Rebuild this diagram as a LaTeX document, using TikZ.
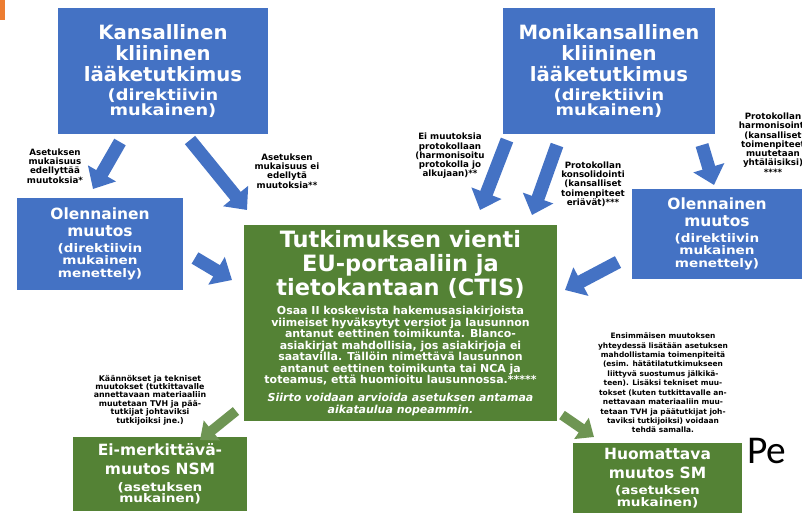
\documentclass[tikz,border=0pt]{standalone}
\usepackage{fontspec}
\setmainfont{DejaVu Sans}
\newfontfamily\widefont{DejaVu Sans}[FakeStretch=1.15]
\newfontfamily\pefont{Carlito}
\usetikzlibrary{arrows.meta}
\definecolor{boxblue}{HTML}{4472C4}
\definecolor{boxgreen}{HTML}{548235}
\definecolor{slideorange}{HTML}{ED7D31}
\newcommand{\fs}[2]{\fontsize{#1}{#2}\selectfont}
\newcommand{\boxtext}[2]{\parbox{#1}{\centering\bfseries #2}}
\begin{document}
\begin{tikzpicture}[x=0.025cm,y=-0.025cm]
      \useasboundingbox (0,0) rectangle (802,515);
      \fill[slideorange] (0,0) rectangle (5,20);
      \begin{scope}[every node/.style={fill=boxblue,text=white,inner sep=0pt}]
        \node[minimum width=5.25cm,minimum height=3.15cm] (K) at (163,71)
          {\boxtext{5cm}{\fs{14}{15}Kansallinen\\kliininen\\lääketutkimus\\[2.5pt]\widefont\fs{11}{11}(direktiivin\\mukainen)}};
        \node[minimum width=5.3cm,minimum height=3.15cm] (M) at (609,71)
          {\boxtext{5cm}{\fs{14}{15}Monikansallinen\\kliininen\\lääketutkimus\\[2.5pt]\widefont\fs{11}{11}(direktiivin\\mukainen)}};
        \node[minimum width=4.15cm,minimum height=2.3cm] (OL) at (100,244)
          {\boxtext{4cm}{\fs{11}{11.5}Olennainen\\muutos\\[3pt]\widefont\fs{8.4}{8.8}(direktiivin\\mukainen\\menettely)}};
        \node[minimum width=4.25cm,minimum height=2.25cm] (OR) at (717,234)
          {\boxtext{4cm}{\fs{11}{11.5}Olennainen\\muutos\\[3pt]\widefont\fs{8.4}{8.8}(direktiivin\\mukainen\\menettely)}};
      \end{scope}
      \begin{scope}[every node/.style={fill=boxgreen,text=white,inner sep=0pt}]
        \node[minimum width=7.825cm,minimum height=4.9cm] (C) at (400.5,323)
          {\boxtext{7.7cm}{\fs{16}{17}Tutkimuksen vienti\\EU-portaaliin ja\\tietokantaan (CTIS)\\[5.3pt]
           \fs{7.8}{8.2}Osaa II koskevista hakemusasiakirjoista\\viimeiset hyväksytyt versiot ja lausunnon\\
           antanut eettinen toimikunta. Blanco-\\asiakirjat mahdollisia, jos asiakirjoja ei\\
           saatavilla. Tällöin nimettävä lausunnon\\antanut eettinen toimikunta tai NCA ja\\
           toteamus, että huomioitu lausunnossa.*****\\[4.5pt]
           \itshape Siirto voidaan arvioida asetuksen antamaa\\aikataulua nopeammin.}};
        \node[minimum width=4.35cm,minimum height=1.85cm] (N) at (160,474)
          {\boxtext{4.2cm}{\fs{11}{13.5}Ei-merkittävä-\\muutos NSM\\[3.5pt]\widefont\fs{8.4}{8.3}(asetuksen\\mukainen)}};
        \node[minimum width=4.225cm,minimum height=1.75cm] (S) at (657.5,478)
          {\boxtext{4.1cm}{\fs{11}{13.5}Huomattava\\muutos SM\\[3.5pt]\widefont\fs{8.4}{8.3}(asetuksen\\mukainen)}};
      \end{scope}
      \begin{scope}[every node/.style={text=black,align=center,inner sep=0pt}]
        \node[font=\bfseries\fs{6.2}{6.6}] (l1) at (55,166) {Asetuksen\\mukaisuus\\edellyttää\\muutoksia*};
        \node[font=\bfseries\fs{6.2}{6.6}] (l2) at (287,171) {Asetuksen\\mukaisuus ei\\edellytä\\muutoksia**};
        \node[font=\bfseries\fs{6.2}{6.6}] (l3) at (450,156) {Ei muutoksia\\protokollaan\\(harmonisoitu\\protokolla jo\\alkujaan)**};
        \node[font=\bfseries\fs{6.2}{6.6}] (l4) at (593,184) {Protokollan\\konsolidointi\\(kansalliset\\toimenpiteet\\eriävät)***};
        \node[font=\bfseries\fs{6.2}{6.6}] (l5) at (773,144) {Protokollan\\harmonisointi\\(kansalliset\\toimenpiteet\\muutetaan\\yhtäläisiksi)\\****};
        \node[font=\bfseries\fs{5.6}{6}] (l6) at (150,400) {Käännökset ja tekniset\\muutokset (tutkittavalle\\annettavaan materiaaliin\\muutetaan TVH ja pää-\\tutkijat johtaviksi\\tutkijoiksi jne.)};
        \node[font=\bfseries\fs{5.3}{6.7}] (l7) at (663,383) {Ensimmäisen muutoksen\\yhteydessä lisätään asetuksen\\mahdollistamia toimenpiteitä\\(esim. hätätilatutkimukseen\\liittyvä suostumus jälkikä-\\teen). Lisäksi tekniset muu-\\tokset (kuten tutkittavalle an-\\nettavaan materiaaliin muu-\\tetaan TVH ja päätutkijat joh-\\taviksi tutkijoiksi) voidaan\\tehdä samalla.};
        \node[font=\pefont\fontsize{28}{30}\selectfont,anchor=west] (pe) at (747,451) {Pe};
      \end{scope}
      % arrow ends
      \coordinate (k1) at (120,142);  \coordinate (ol1) at (93,189);
      \coordinate (k2) at (190,140);  \coordinate (c1) at (247,210);
      \coordinate (ol2) at (195,258); \coordinate (c2) at (232,280);
      \coordinate (m1) at (507,140);  \coordinate (c3) at (480,210);
      \coordinate (m2) at (557,145);  \coordinate (c4) at (532,215);
      \coordinate (m3) at (702,145);  \coordinate (or1) at (714,185);
      \coordinate (or2) at (618,262); \coordinate (c5) at (565,290);
      \coordinate (c6) at (236,411);  \coordinate (n1) at (200,440);
      \coordinate (c7) at (562,415);  \coordinate (s1) at (594,437);
      \begin{scope}[every edge/.style={draw=boxblue,line width=0.33cm,-{Triangle[length=0.45cm,width=0.78cm]}}]
        \path (k1) edge (ol1);
        \path (k2) edge (c1);
        \path (ol2) edge (c2);
        \path (m1) edge (c3);
        \path (m2) edge (c4);
        \path (m3) edge (or1);
        \path (or2) edge (c5);
      \end{scope}
      \begin{scope}[every edge/.style={draw=boxgreen!85!white,line width=0.25cm,-{Triangle[length=0.38cm,width=0.62cm]}}]
        \path (c6) edge (n1);
        \path (c7) edge (s1);
      \end{scope}
    \end{tikzpicture}
\end{document}
